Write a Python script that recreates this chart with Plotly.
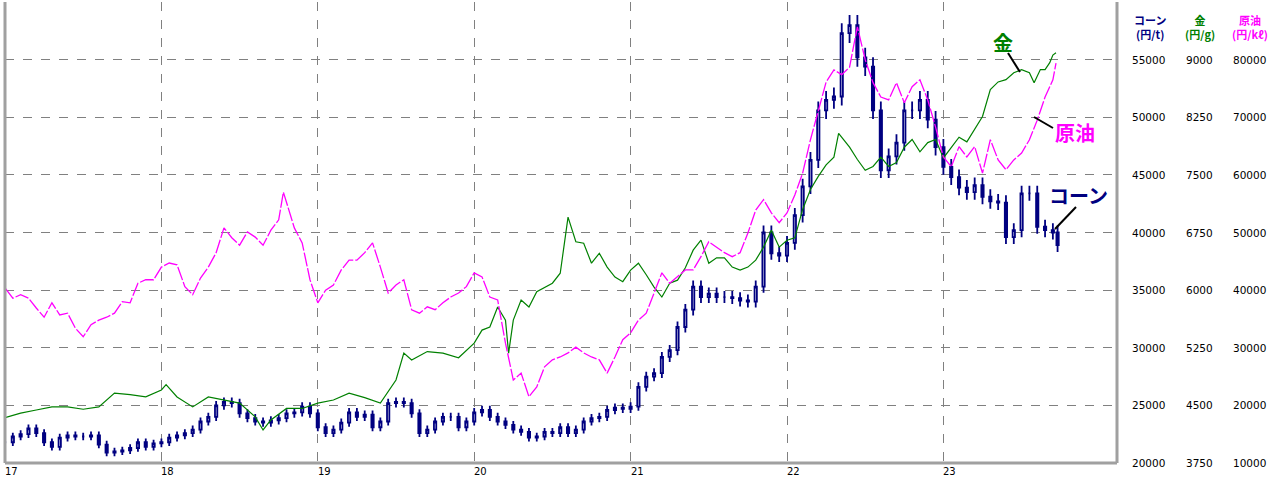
import plotly.graph_objects as go

# ---------------- data ----------------
corn_t = [17.0,17.05,17.1,17.15,17.2,17.25,17.3,17.35,17.4,17.45,17.5,17.55,17.6,17.65,17.7,17.75,17.8,17.85,17.9,17.95,
          18.0,18.05,18.1,18.15,18.2,18.25,18.3,18.35,18.4,18.45,18.5,18.55,18.6,18.65,18.7,18.75,18.8,18.85,18.9,18.95,
          19.0,19.05,19.1,19.15,19.2,19.25,19.3,19.35,19.4,19.45,19.5,19.55,19.6,19.65,19.7,19.75,19.8,19.85,19.9,19.95,
          20.0,20.05,20.1,20.15,20.2,20.25,20.3,20.35,20.4,20.45,20.5,20.55,20.6,20.65,20.7,20.75,20.8,20.85,20.9,20.95,
          21.0,21.05,21.1,21.15,21.2,21.25,21.3,21.35,21.4,21.45,21.5,21.55,21.6,21.65,21.7,21.75,21.8,21.85,21.9,21.95,
          22.0,22.05,22.1,22.15,22.2,22.25,22.3,22.35,22.4,22.45,22.5,22.55,22.6,22.65,22.7,22.75,22.8,22.85,22.9,22.95,
          23.0,23.05,23.1,23.15,23.2,23.25,23.3,23.35,23.4,23.45,23.5,23.55,23.6,23.65,23.7,23.73]
corn_close = [21800,22300,22500,23000,22600,21800,21400,22200,22400,22300,22300,22400,21600,20900,21000,21100,21300,21800,21400,21700,
              21800,22200,22400,22600,22900,23600,24000,25000,25300,25200,24300,23900,23600,23500,23700,23900,24300,24400,24900,24300,
              23100,22600,22900,23500,24400,24000,24200,23100,23600,25200,25300,25200,24300,22600,22900,23600,24000,24000,23100,23600,
              24400,24600,24000,23600,23300,22900,22700,22200,22300,22700,22600,23100,22600,22900,23600,23900,24000,24600,24800,24700,
              24900,26600,27500,27800,29200,29800,31800,33300,35300,34400,34700,34400,34400,34300,34100,34000,35300,40000,38200,38000,
              39100,41500,44000,46300,50600,51500,51800,57300,58000,55200,54400,50600,45400,46600,47800,50600,50600,51500,49800,47400,
              45700,44800,43900,43500,44100,43100,42700,42600,39600,40200,43400,43400,40500,40200,40000,38900]

gold_t = [17.0,17.1,17.2,17.3,17.4,17.5,17.6,17.7,17.8,17.9,18.0,18.03,18.1,18.2,18.3,18.4,18.5,18.6,18.65,18.7,18.8,18.9,
          19.0,19.1,19.2,19.3,19.4,19.5,19.55,19.6,19.7,19.8,19.9,20.0,20.05,20.1,20.15,20.2,20.22,20.25,20.3,20.35,20.4,20.5,
          20.55,20.6,20.65,20.7,20.75,20.8,20.85,20.9,20.95,21.0,21.05,21.1,21.15,21.2,21.25,21.3,21.35,21.4,21.45,21.5,21.55,
          21.6,21.65,21.7,21.75,21.8,21.85,21.9,21.95,22.0,22.05,22.1,22.15,22.2,22.25,22.3,22.33,22.4,22.45,22.5,22.55,22.6,
          22.65,22.7,22.75,22.8,22.85,22.9,22.95,23.0,23.05,23.1,23.15,23.2,23.25,23.3,23.35,23.4,23.45,23.5,23.55,23.58,23.62,
          23.65,23.68,23.7,23.72]
gold = [4340,4400,4440,4480,4480,4450,4480,4660,4640,4610,4700,4770,4610,4480,4610,4570,4530,4350,4180,4310,4460,4460,
        4530,4570,4660,4600,4530,4830,5180,5090,5200,5180,5120,5310,5480,5520,5780,5610,5180,5610,5870,5780,5980,6090,
        6220,6950,6630,6610,6350,6480,6300,6170,6110,6260,6350,6200,6040,5910,6090,6130,6290,6520,6650,6350,6420,
        6420,6300,6260,6300,6390,6560,6780,6560,6650,6680,7050,7310,7480,7630,7730,8040,7860,7700,7560,7610,7730,
        7610,7660,7860,7960,7800,7920,7960,7720,7850,7990,7930,8090,8260,8610,8710,8740,8830,8870,8830,8700,8870,
        8870,8960,9060,9090]

oil_t = [17.0,17.05,17.1,17.15,17.2,17.25,17.3,17.35,17.4,17.45,17.5,17.55,17.6,17.65,17.7,17.75,17.8,17.85,17.9,17.95,
         18.0,18.05,18.1,18.15,18.2,18.25,18.3,18.35,18.4,18.45,18.5,18.55,18.6,18.65,18.7,18.75,18.78,18.85,18.9,18.95,
         19.0,19.05,19.1,19.15,19.2,19.25,19.3,19.35,19.4,19.45,19.5,19.55,19.6,19.65,19.7,19.75,19.8,19.85,19.9,19.95,
         20.0,20.05,20.1,20.15,20.2,20.25,20.3,20.35,20.4,20.45,20.5,20.55,20.6,20.65,20.7,20.75,20.8,20.85,20.9,20.95,
         21.0,21.05,21.1,21.15,21.2,21.25,21.3,21.35,21.4,21.45,21.5,21.55,21.6,21.65,21.7,21.75,21.8,21.85,21.9,21.95,
         22.0,22.05,22.1,22.15,22.2,22.25,22.3,22.35,22.4,22.45,22.5,22.55,22.6,22.65,22.7,22.75,22.8,22.85,22.9,22.95,
         23.0,23.05,23.1,23.15,23.2,23.25,23.3,23.35,23.4,23.45,23.5,23.55,23.6,23.65,23.7,23.72]
oil = [40400,38600,39200,38600,36900,35300,37800,35700,36000,33400,31900,34000,34800,35300,36000,38000,37800,41200,41800,41800,
       44000,44700,44400,40600,39200,42100,44000,46500,50800,49100,47800,50100,49200,47800,50400,52200,57000,50800,48200,41800,
       37800,40000,40900,43500,45200,45200,46500,48200,44000,39500,40900,41800,36600,36000,37100,36600,37800,38800,39500,40600,
       43000,42300,38800,38300,30800,24400,25600,21500,23200,26700,27900,28400,29100,30100,29100,28400,27900,25600,28400,31400,
       32600,34800,36000,39500,43000,41200,42300,43500,43500,45800,48400,47500,46500,45800,46500,49900,53900,55700,53400,51700,
       53400,56500,60300,66100,71300,76100,78200,77400,78700,85700,80000,76000,73500,73000,76000,72500,75300,76500,73000,68300,
       63100,61400,64900,63100,64900,60300,66100,62600,60900,62600,63800,66100,69500,73500,76500,79400]

year_ticks = [17, 18, 19, 20, 21, 22, 23]
corn_ticks = [20000, 25000, 30000, 35000, 40000, 45000, 50000, 55000]
gold_ticks = [3750, 4500, 5250, 6000, 6750, 7500, 8250, 9000]
oil_ticks = [10000, 20000, 30000, 40000, 50000, 60000, 70000, 80000]

# ---------------- figure ----------------
W, H = 1272, 479
L, R, T, B = 5, 155, 2, 16
NAVY, GREEN, MAG = "#000080", "#008000", "#ff00ff"

corn_open = [corn_close[0]] + corn_close[:-1]
corn_high = [max(o, c) * 1.015 for o, c in zip(corn_open, corn_close)]
corn_low = [min(o, c) * 0.985 for o, c in zip(corn_open, corn_close)]

fig = go.Figure()
fig.add_trace(go.Scatter(x=oil_t, y=oil, yaxis="y3", mode="lines",
                         line=dict(color=MAG, width=1.3, dash="14px,2px"), hoverinfo="skip"))
fig.add_trace(go.Scatter(x=gold_t, y=gold, yaxis="y2", mode="lines",
                         line=dict(color=GREEN, width=1.2), hoverinfo="skip"))
fig.add_trace(go.Candlestick(x=corn_t, open=corn_open, high=corn_high, low=corn_low, close=corn_close,
                             increasing=dict(line=dict(color=NAVY, width=1.8), fillcolor="white"),
                             decreasing=dict(line=dict(color=NAVY, width=1.8), fillcolor=NAVY),
                             whiskerwidth=0))

fig.update_layout(
    width=W, height=H, margin=dict(l=L, r=R, t=T, b=B, autoexpand=False),
    paper_bgcolor="white", plot_bgcolor="white", showlegend=False,
    font=dict(family="DejaVu Sans", size=11, color="black"),
    xaxis=dict(range=[17, 24.11], tickvals=year_ticks, showticklabels=False,
               showgrid=True, gridcolor="#808080", griddash="dash", gridwidth=1,
               zeroline=False, rangeslider=dict(visible=False), fixedrange=True),
    yaxis=dict(range=[20000, 60000], tickvals=corn_ticks, showticklabels=False,
               showgrid=True, gridcolor="#808080", griddash="dash", gridwidth=1, zeroline=False),
    yaxis2=dict(range=[3750, 9750], overlaying="y", showticklabels=False, showgrid=False, zeroline=False),
    yaxis3=dict(range=[10000, 90000], overlaying="y", showticklabels=False, showgrid=False, zeroline=False),
)

def px(xp):
    return (xp - L) / (W - L - R)

def py(yp):
    return (H - B - yp) / (H - T - B)

# frame lines
fig.add_shape(type="line", xref="paper", yref="paper", x0=0, x1=0, y0=0, y1=1, line=dict(color="#a0a0a0", width=3))
fig.add_shape(type="line", xref="paper", yref="paper", x0=0, x1=1, y0=0, y1=0, line=dict(color="#a0a0a0", width=3))
fig.add_shape(type="line", xref="paper", yref="paper", x0=1, x1=1, y0=0, y1=1, line=dict(color="#a0a0a0", width=3))

# year labels
for yv in year_ticks:
    fig.add_annotation(x=yv, y=0, xref="x", yref="paper", yshift=-1, text=str(yv), showarrow=False,
                       xanchor="left", yanchor="top", xshift=-2, font=dict(size=10))

# right axis labels
for c, g, o in zip(corn_ticks, gold_ticks, oil_ticks):
    for val, xp in ((c, 1167), (g, 1215), (o, 1268)):
        fig.add_annotation(x=px(xp), y=c, xref="paper", yref="y", text=str(val), showarrow=False,
                           xanchor="right", yanchor="middle", font=dict(size=10.5))

# headers
for txt, col, xp in (("コーン<br>(円/t)", NAVY, 1150), ("金<br>(円/g)", GREEN, 1200), ("原油<br>(円/kℓ)", MAG, 1250)):
    fig.add_annotation(x=px(xp), y=py(27), xref="paper", yref="paper", text="<b>" + txt + "</b>",
                       showarrow=False, xanchor="center", yanchor="middle",
                       font=dict(size=11, color=col, family="Noto Sans CJK JP"))

# series labels with leaders
for txt, col, xp, yp, (x0, y0, x1, y1) in (
        ("金", GREEN, 1003, 42, (1008, 53, 1020, 72)),
        ("原油", MAG, 1075, 133, (1034, 117, 1053, 128)),
        ("コーン", NAVY, 1078, 195, (1076, 207, 1055, 229))):
    fig.add_annotation(x=px(xp), y=py(yp), xref="paper", yref="paper", text="<b>" + txt + "</b>",
                       showarrow=False, xanchor="center", yanchor="middle",
                       font=dict(size=20, color=col, family="Noto Sans CJK JP"))
    fig.add_shape(type="line", xref="paper", yref="paper", x0=px(x0), y0=py(y0), x1=px(x1), y1=py(y1),
                  line=dict(color="black", width=2))

fig.write_html("out.html", config={"displayModeBar": False},
               post_script="document.body.style.margin='0';document.body.style.overflow='hidden';")
